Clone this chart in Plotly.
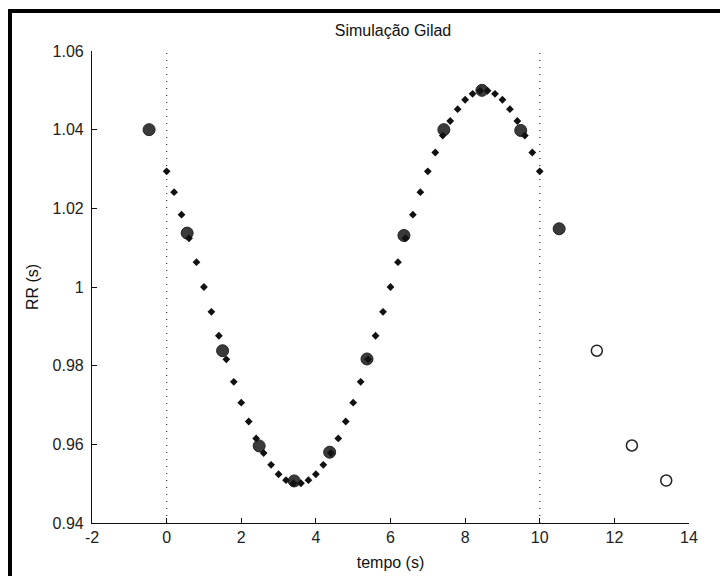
import plotly.graph_objects as go

# Sampled simulation curve (small diamonds)
t_sim = [0.0, 0.2, 0.4, 0.6, 0.8, 1.0, 1.2, 1.4, 1.6, 1.8, 2.0, 2.2, 2.4, 2.6, 2.8,
         3.0, 3.2, 3.4, 3.6, 3.8, 4.0, 4.2, 4.4, 4.6, 4.8, 5.0, 5.2, 5.4, 5.6, 5.8,
         6.0, 6.2, 6.4, 6.6, 6.8, 7.0, 7.2, 7.4, 7.6, 7.8, 8.0, 8.2, 8.4, 8.6, 8.8,
         9.0, 9.2, 9.4, 9.6, 9.8, 10.0]
rr_sim = [1.0294, 1.0241, 1.0184, 1.0124, 1.0063, 1.0000, 0.9937, 0.9876, 0.9816, 0.9759,
          0.9706, 0.9658, 0.9615, 0.9578, 0.9548, 0.9524, 0.9509, 0.9501, 0.9501, 0.9509,
          0.9524, 0.9548, 0.9578, 0.9615, 0.9658, 0.9706, 0.9759, 0.9816, 0.9876, 0.9937,
          1.0000, 1.0063, 1.0124, 1.0184, 1.0241, 1.0294, 1.0342, 1.0385, 1.0422, 1.0452,
          1.0476, 1.0491, 1.0499, 1.0499, 1.0491, 1.0476, 1.0452, 1.0422, 1.0385, 1.0342,
          1.0294]

# Beats (large filled circles)
t_beat = [-0.47, 0.55, 1.50, 2.48, 3.42, 4.37, 5.37, 6.36, 7.43, 8.45, 9.49, 10.52]
rr_beat = [1.040, 1.0137, 0.9838, 0.9596, 0.9507, 0.958, 0.9817, 1.0131, 1.040, 1.050, 1.0398, 1.0148]

# Predicted beats (open circles)
t_pred = [11.53, 12.47, 13.39]
rr_pred = [0.9838, 0.9597, 0.9508]

# Window limits (dotted lines)
window = [0, 10]

x_range = [-2, 14]
y_range = [0.94, 1.06]
x_ticks = [-2, 0, 2, 4, 6, 8, 10, 12, 14]
x_ticklabels = ["-2", "0", "2", "4", "6", "8", "10", "12", "14"]
y_ticks = [0.94, 0.96, 0.98, 1.0, 1.02, 1.04, 1.06]
y_ticklabels = ["0.94", "0.96", "0.98", "1", "1.02", "1.04", "1.06"]

FONT = "Liberation Sans, Arial, sans-serif"

fig = go.Figure()

for w in window:
    fig.add_trace(go.Scatter(
        x=[w, w], y=y_range, mode="lines",
        line=dict(color="#333333", width=1.2, dash="1px,6px"),
        hoverinfo="skip", showlegend=False))

fig.add_trace(go.Scatter(
    x=t_beat, y=rr_beat, mode="markers",
    marker=dict(symbol="circle", size=12, color="#3a3a3a",
                line=dict(color="#222222", width=1)),
    showlegend=False))

fig.add_trace(go.Scatter(
    x=t_pred, y=rr_pred, mode="markers",
    marker=dict(symbol="circle", size=11, color="white",
                line=dict(color="#222222", width=1.5)),
    showlegend=False))

fig.add_trace(go.Scatter(
    x=t_sim, y=rr_sim, mode="markers",
    marker=dict(symbol="diamond", size=6, color="#111111",
                line=dict(width=0)),
    showlegend=False))

# black frame on the left and top (part of the reference image)
fig.add_shape(type="line", xref="paper", yref="paper",
              x0=(10 - 92) / 597, x1=(10 - 92) / 597,
              y0=(523 - 9) / 472, y1=(523 - 580) / 472,
              line=dict(color="black", width=4))
fig.add_shape(type="line", xref="paper", yref="paper",
              x0=(8 - 92) / 597, x1=(725 - 92) / 597,
              y0=(523 - 11) / 472, y1=(523 - 11) / 472,
              line=dict(color="black", width=4))

axis_common = dict(
    showgrid=False, zeroline=False, showline=True, linecolor="#111111", linewidth=1.1,
    ticks="inside", ticklen=5, tickcolor="#111111", tickwidth=1.1,
    tickfont=dict(family=FONT, size=16, color="#222222"),
    mirror=False, automargin=False,
)

fig.update_layout(
    width=720, height=576,
    margin=dict(l=92, r=31, t=51, b=53, pad=0, autoexpand=False),
    paper_bgcolor="white", plot_bgcolor="white",
    title=dict(text="Simulação Gilad", x=393 / 720, xanchor="center",
               y=1 - 30 / 576, yanchor="middle",
               font=dict(family=FONT, size=16, color="#111111")),
    xaxis=dict(range=x_range, tickvals=x_ticks, ticktext=x_ticklabels, **axis_common,
               title=dict(text="tempo (s)", standoff=11,
                          font=dict(family=FONT, size=16, color="#111111"))),
    yaxis=dict(range=y_range, tickvals=y_ticks, ticktext=y_ticklabels, **axis_common,
               ticklabelstandoff=4,
               title=dict(text="RR (s)", standoff=10,
                          font=dict(family=FONT, size=16, color="#111111"))),
)

fig.write_html("out.html")
